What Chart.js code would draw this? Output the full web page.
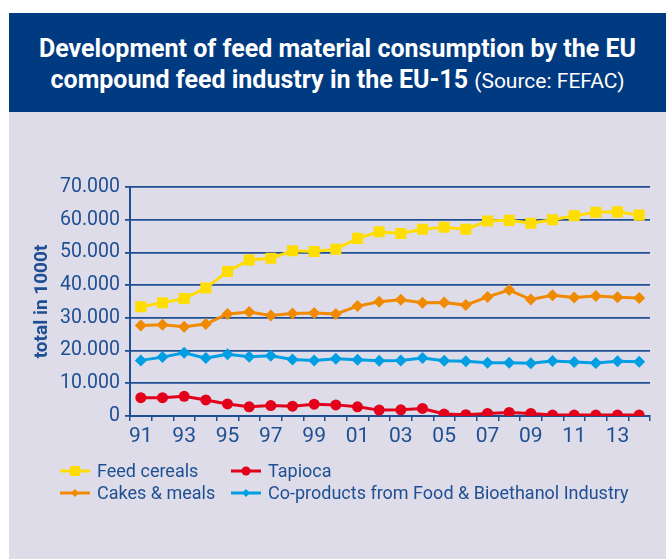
<!DOCTYPE html>
<html>
<head>
<meta charset="utf-8">
<script src="https://cdn.jsdelivr.net/npm/chart.js@4.4.1/dist/chart.umd.min.js"></script>
<style>
  html, body { margin: 0; padding: 0; background: #fff; }
  body { width: 666px; height: 559px; position: relative; overflow: hidden; font-family: Roboto, "Liberation Sans", sans-serif; }
  #header {
    position: absolute; left: 9px; top: 13px; width: 657px; height: 99px;
    background: #003a80; color: #fff; text-align: center;
    box-sizing: border-box; padding-top: 20px;
    font-size: 25px; line-height: 31px; font-weight: bold;
  }
  #header .src { font-weight: normal; font-size: 21px; }
  #panel { position: absolute; left: 9px; top: 112px; width: 657px; height: 447px; background: #dedce9; }
  #chart { position: absolute; left: 0; top: 0; }
  .leg { position: absolute; height: 22px; line-height: 22px; font-size: 18px; color: #1f4f93; white-space: nowrap; }
  .leg svg { position: absolute; left: 0; top: 5px; }
  .leg span { position: absolute; top: 0; }
</style>
</head>
<body>
<div id="header">Development of feed material consumption by the EU<br>compound feed industry in the EU-15 <span class="src">(Source: FEFAC)</span></div>
<div id="panel"></div>
<canvas id="chart" width="666" height="559"></canvas>
<div id="legend"></div>
<script>
// years 1991 - 2014, values in 1000t
const years = ['91', '92', '93', '94', '95', '96', '97', '98', '99', '00', '01', '02',
               '03', '04', '05', '06', '07', '08', '09', '10', '11', '12', '13', '14'];
const feedCereals = [33400, 34600, 35900, 39100, 44200, 47700, 48200, 50500, 50300, 51000, 54300, 56300,
                     55800, 57100, 57700, 57100, 59600, 59800, 58900, 60000, 61200, 62300, 62400, 61400];
const cakesMeals = [27700, 27900, 27300, 28100, 31200, 31800, 30700, 31300, 31500, 31200, 33600, 34900,
                    35500, 34600, 34700, 33900, 36400, 38500, 35600, 36900, 36200, 36700, 36300, 36100];
const tapioca = [5600, 5600, 6000, 4900, 3700, 2800, 3200, 3000, 3600, 3400, 2800, 1800,
                 1900, 2300, 600, 400, 800, 1100, 800, 300, 300, 300, 300, 300];
const coProducts = [17000, 18000, 19300, 17700, 18900, 18100, 18400, 17300, 17000, 17500, 17200, 16900,
                    17000, 17700, 16900, 16700, 16300, 16300, 16100, 16800, 16500, 16200, 16700, 16600];

const navy = '#1f4f93';
const font = 'Roboto, "Liberation Sans", sans-serif';

const series = [
  { label: 'Feed cereals', data: feedCereals, color: '#ffdd00', point: 'rect', radius: 7.8 },
  { label: 'Tapioca', data: tapioca, color: '#e2001a', point: 'circle', radius: 5.5 },
  { label: 'Cakes & meals', data: cakesMeals, color: '#f08a00', point: 'rectRot', radius: 6 },
  { label: 'Co-products from Food & Bioethanol Industry', data: coProducts, color: '#009fe3', point: 'rectRot', radius: 6 }
];

let chart = new Chart(document.getElementById('chart'), {
  type: 'line',
  data: {
    labels: years,
    datasets: series.map(s => ({
      label: s.label,
      data: s.data,
      borderColor: s.color,
      backgroundColor: s.color,
      borderWidth: 3,
      pointStyle: s.point,
      pointRadius: s.radius,
      pointBorderWidth: 0,
      pointHoverRadius: s.radius,
      tension: 0
    }))
  },
  options: {
    responsive: false,
    animation: false,
    events: [],
    layout: { padding: { left: 0, top: 187, right: 16, bottom: 103 } },
    plugins: {
      legend: { display: false },
      tooltip: { enabled: false }
    },
    scales: {
      x: {
        offset: true,
        grid: { drawOnChartArea: false, drawTicks: true, tickLength: 5, color: navy, lineWidth: 1.5, offset: true },
        border: { display: true, color: navy, width: 2 },
        ticks: {
          autoSkip: false, maxRotation: 0, padding: 3,
          color: navy, font: { family: font, size: 21 },
          // only every second year is labelled
          callback: (v, i) => (i % 2 === 0 ? years[i] : '')
        },
        afterFit: (s) => { s.height = 40; }
      },
      y: {
        min: 0, max: 70000,
        grid: { color: navy, lineWidth: 1.8, tickLength: 5 },
        border: { display: true, color: navy, width: 2 },
        ticks: {
          stepSize: 10000, padding: 5,
          color: navy, font: { family: font, size: 19.5 },
          callback: (v) => (v === 0 ? '0' : (v / 1000) + '.000')
        },
        title: {
          display: true, text: 'total in 1000t', color: navy,
          font: { family: font, size: 19, weight: 'bold' },
          padding: { top: 31, bottom: 0 }
        },
        afterFit: (s) => { s.width = 130; }
      }
    }
  }
});

// two column legend drawn as html, same layout as the original
const legendPos = [
  { x: 60, y: 460 }, { x: 231, y: 460 },
  { x: 60, y: 482 }, { x: 231, y: 482 }
];

function markerSvg(s) {
  let m = '';
  if (s.point === 'rect') m = `<rect x="10" y="1" width="10" height="10" fill="${s.color}"/>`;
  else if (s.point === 'circle') m = `<circle cx="15" cy="6" r="4.5" fill="${s.color}"/>`;
  else m = `<polygon points="15,2 19,6 15,10 11,6" fill="${s.color}"/>`;
  return `<svg width="30" height="12"><line x1="0" y1="6" x2="30" y2="6" stroke="${s.color}" stroke-width="3"/>${m}</svg>`;
}

const legendEl = document.getElementById('legend');
series.forEach((s, i) => {
  const div = document.createElement('div');
  div.className = 'leg';
  div.style.left = legendPos[i].x + 'px';
  div.style.top = legendPos[i].y + 'px';
  div.innerHTML = markerSvg(s) + `<span style="left:37px">${s.label.replace('&', '&amp;')}</span>`;
  legendEl.appendChild(div);
});
</script>
</body>
</html>
